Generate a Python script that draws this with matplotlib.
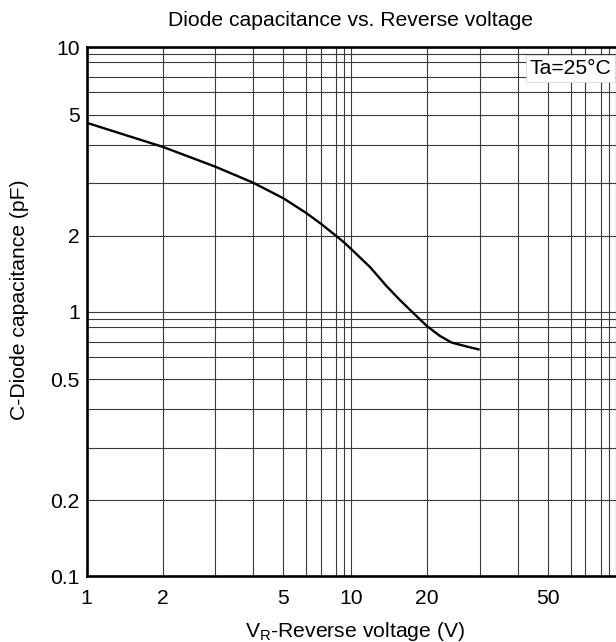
import numpy as np
import matplotlib
matplotlib.use('Agg')
import matplotlib.pyplot as plt
from matplotlib.ticker import FixedLocator, FixedFormatter, NullFormatter

# ---- data ----
voltage = [1, 2, 3, 4, 5, 6, 7, 8, 9, 10, 11.9, 13.8, 15.6, 17.6, 20, 22.1, 24.2, 27.2, 30]
capacitance = [4.72, 3.95, 3.40, 3.01, 2.67, 2.385, 2.194, 2.0, 1.88, 1.773, 1.501, 1.265,
               1.113, 0.983, 0.807, 0.737, 0.694, 0.666, 0.645]
x_tick_values = [1, 2, 5, 10, 20, 50]
x_tick_labels = ['1', '2', '5', '10', '20', '50']
y_tick_values = [0.1, 0.2, 0.5, 1, 2, 5, 10]
y_tick_labels = ['0.1', '0.2', '0.5', '1', '2', '5', '10']
title = 'Diode capacitance vs. Reverse voltage'
x_label = 'V$_\\mathregular{R}$-Reverse voltage (V)'
y_label = 'C-Diode capacitance (pF)'
note = 'Ta=25°C'

# ---- chart-paper scale: where 1..9 sit inside each decade (fraction of decade) ----
paper_frac = [0.0, 0.287, 0.486, 0.630, 0.744, 0.830, 0.886, 0.943, 0.974]
decades = range(-3, 4)
node_log = np.array([k + np.log10(d) for k in decades for d in range(1, 10)] + [4.0])
node_pos = np.array([k + paper_frac[d - 1] for k in decades for d in range(1, 10)] + [4.0])


def fwd(v):
    v = np.asarray(v, dtype=float)
    with np.errstate(divide='ignore', invalid='ignore'):
        L = np.log10(np.where(v > 0, v, 1e-300))
    return np.interp(L, node_log, node_pos)


def inv(p):
    p = np.asarray(p, dtype=float)
    return 10 ** np.interp(p, node_pos, node_log)


plt.rcParams['font.family'] = ['Liberation Sans', 'DejaVu Sans']
FS = 15.2

W, H = 616, 642
fig = plt.figure(figsize=(W / 100, H / 100), dpi=100)
left, right, top, bottom = 86.6, 615.6, 47.3, 576.0
ax = fig.add_axes([left / W, 1 - bottom / H, (right - left) / W, (bottom - top) / H])
ax.set_xscale('function', functions=(fwd, inv))
ax.set_yscale('function', functions=(fwd, inv))
ax.set_xlim(1, 100)
ax.set_ylim(0.1, 10)

grid_x = [d * 10 ** k for k in (0, 1) for d in range(1, 10)][1:] + [100]
grid_y = [d * 10 ** k for k in (-1, 0) for d in range(1, 10)][1:] + [10]

ax.xaxis.set_major_locator(FixedLocator(x_tick_values))
ax.xaxis.set_major_formatter(FixedFormatter(x_tick_labels))
ax.xaxis.set_minor_locator(FixedLocator(grid_x))
ax.xaxis.set_minor_formatter(NullFormatter())
ax.yaxis.set_major_locator(FixedLocator(y_tick_values))
ax.yaxis.set_major_formatter(FixedFormatter(y_tick_labels))
ax.yaxis.set_minor_locator(FixedLocator(grid_y))
ax.yaxis.set_minor_formatter(NullFormatter())

ax.tick_params(which='both', length=0, labelsize=FS, colors='black')
ax.tick_params(axis='x', pad=9.5)
ax.tick_params(axis='y', pad=5.0)
ax.grid(which='both', color='#3a3a3a', linewidth=0.8)
ax.set_axisbelow(True)

for s in ('left', 'bottom', 'top'):
    ax.spines[s].set_linewidth(1.9)
ax.spines['right'].set_visible(False)

ax.plot(voltage, capacitance, color='black', linewidth=1.7, zorder=3,
        solid_capstyle='butt', solid_joinstyle='round')

ax.text((570.5 - left) / (right - left), 1 - (68.5 - top) / (bottom - top), note,
        transform=ax.transAxes, ha='center', va='center', fontsize=FS, zorder=4,
        bbox=dict(boxstyle='square,pad=0.17', facecolor='white', edgecolor='#d0d0d0',
                  linewidth=0.5))

fig.text(351 / W, 1 - 26.4 / H, title, ha='center', va='baseline', fontsize=FS)
fig.text(355 / W, 1 - 637 / H, x_label, ha='center', va='baseline', fontsize=FS)
fig.text(20 / W, 1 - 300 / H, y_label, ha='center', va='center', rotation=90, fontsize=FS)

fig.savefig('out.png', dpi=100)
